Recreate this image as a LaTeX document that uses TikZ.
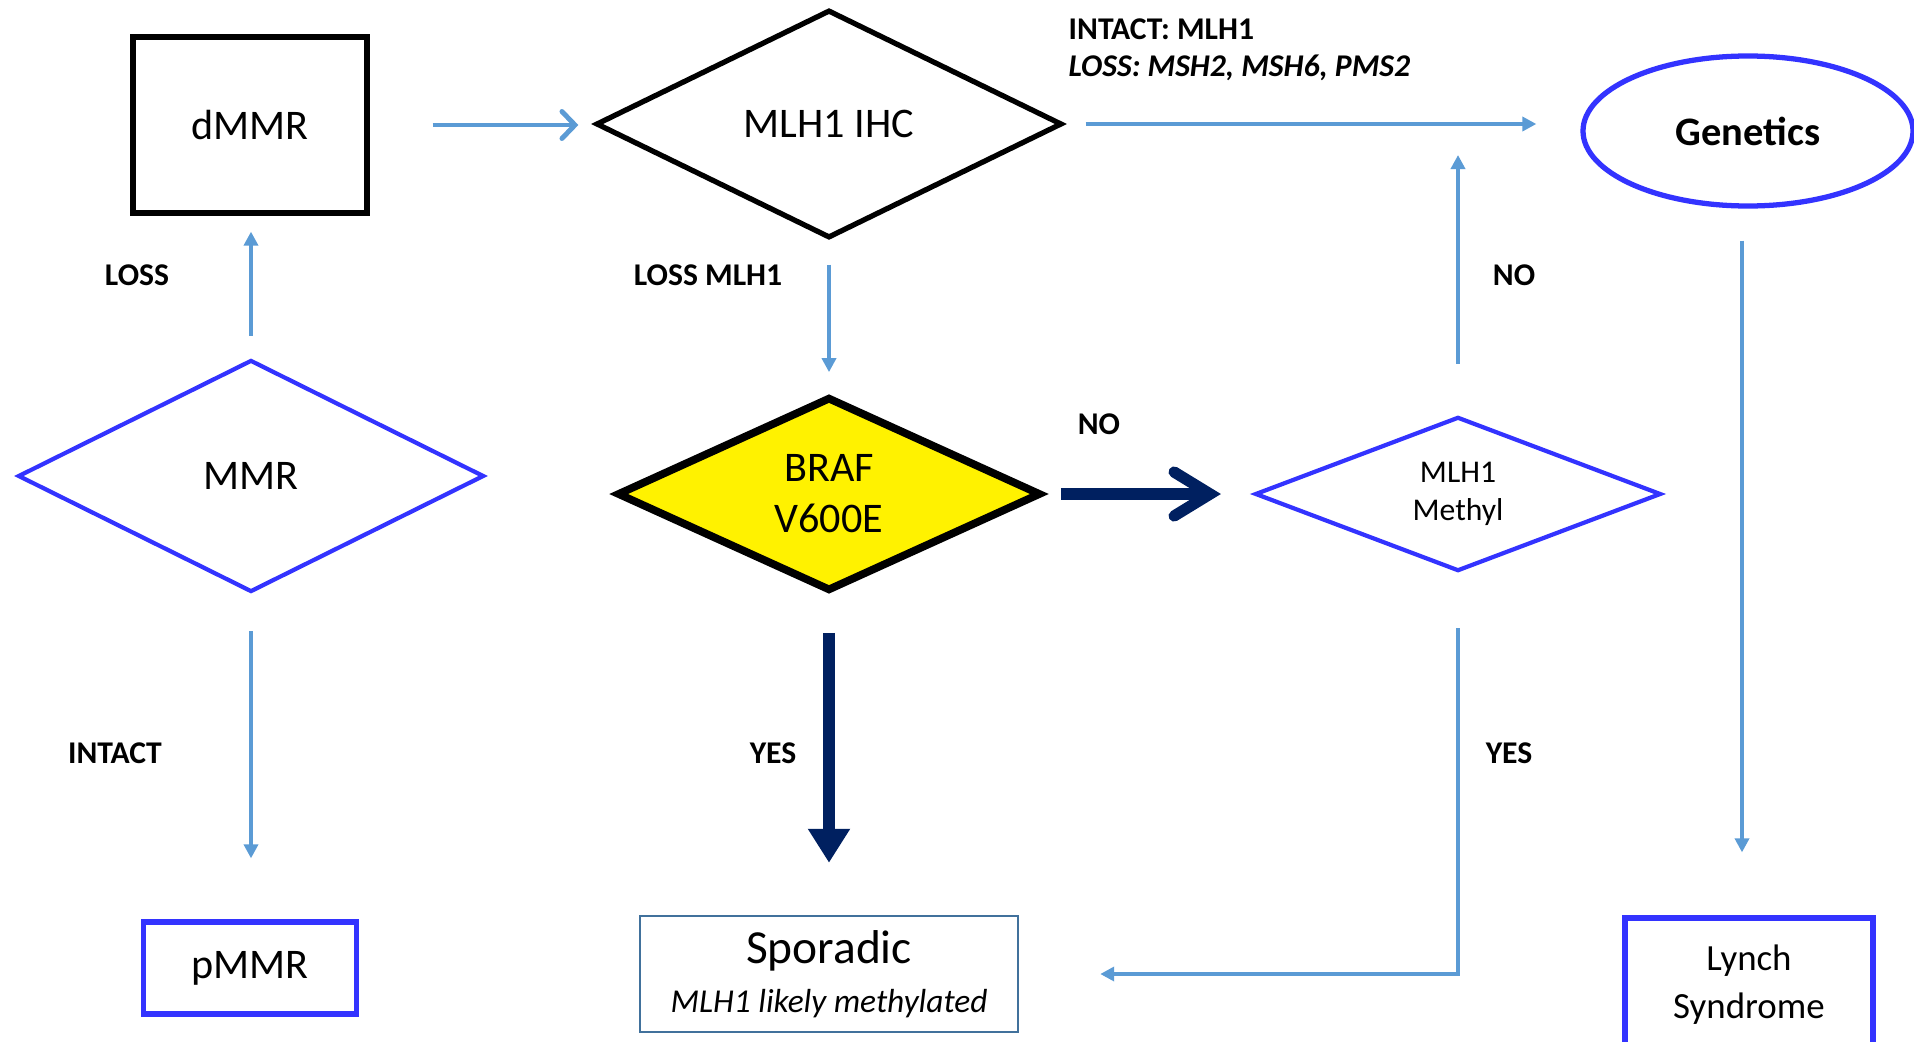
\documentclass[tikz,border=0pt]{standalone}
\usepackage{fontspec}
\setmainfont{Carlito}
\usetikzlibrary{shapes.geometric,arrows.meta}
\definecolor{arrowblue}{HTML}{5B9BD5}
\definecolor{shapeblue}{HTML}{3333FF}
\definecolor{navy}{HTML}{002060}
\definecolor{steel}{HTML}{41719C}
\tikzset{
  blackbox/.style={draw=black, line width=1.5pt, inner sep=0pt},
  bluebox/.style={draw=shapeblue, line width=1.5pt, inner sep=0pt, align=center},
  decision/.style={diamond, draw=shapeblue, line width=1.2pt, inner sep=0pt, align=center},
  flow/.style={draw=arrowblue, line width=1pt, -{Triangle[length=0.14cm,width=0.14cm]}},
  bigflow/.style={draw=navy, line width=3.2pt},
  lbl/.style={inner sep=0pt, font=\fontsize{9}{11}\selectfont\bfseries},
}
\begin{document}
\begin{tikzpicture}
    \clip (0,0) rectangle (19.14,10.41);
    \node[blackbox, minimum width=2.34cm, minimum height=1.76cm, font=\fontsize{12}{14}\selectfont] (dmmr) at (2.50,9.16) {dMMR};
    \node[decision, draw=black, line width=1.5pt, minimum width=4.66cm, minimum height=2.28cm, font=\fontsize{12}{14}\selectfont] (ihc) at (8.29,9.17) {MLH1 IHC};
    \node[decision, minimum width=4.66cm, minimum height=2.32cm, font=\fontsize{12}{14}\selectfont] (mmr) at (2.51,5.65) {MMR};
    \node[decision, draw=black, fill=yellow, line width=2.2pt, minimum width=4.24cm, minimum height=1.94cm, font=\fontsize{12}{14.5}\selectfont] (braf) at (8.29,5.47) {BRAF\\V600E};
    \node[decision, minimum width=4.06cm, minimum height=1.54cm, font=\fontsize{9}{10.8}\selectfont] (methyl) at (14.58,5.47) {MLH1\\Methyl};
    \node[ellipse, draw=shapeblue, line width=1.5pt, minimum width=3.30cm, minimum height=1.50cm, font=\fontsize{11.5}{14}\selectfont\bfseries] (genetics) at (17.48,9.10) {Genetics};
    \node[bluebox, minimum width=2.13cm, minimum height=0.92cm, font=\fontsize{12}{14}\selectfont] (pmmr) at (2.50,0.73) {pMMR};
    \node[draw=steel, line width=0.7pt, minimum width=3.78cm, minimum height=1.16cm, inner sep=0pt, align=center, font=\fontsize{13.5}{14}\selectfont] (sporadic) at (8.29,0.67) {Sporadic\\\fontsize{9.5}{12}\selectfont\itshape MLH1 likely methylated};
    \node[bluebox, minimum width=2.48cm, minimum height=1.34cm, font=\fontsize{10.5}{13.6}\selectfont] (lynch) at (17.49,0.56) {Lynch\\Syndrome};

    \draw[draw=arrowblue, line width=1.4pt, -{Straight Barb[length=0.13cm,width=0.27cm,line cap=round]}, shorten <=0.63cm, shorten >=0.15cm] (dmmr.east) -- (dmmr.east -| ihc.west);
    \draw[flow, shorten <=0.21cm, shorten >=0.44cm] (ihc.east) -- (ihc.east -| genetics.west);
    \draw[flow, shorten <=0.32cm, shorten >=0.63cm] ([xshift=-0.06cm]genetics.south) -- ([xshift=-0.06cm]genetics.south |- lynch.north);
    \draw[flow, shorten <=0.24cm, shorten >=0.21cm] (ihc.south) -- (braf.north);
    \draw[bigflow, -{Straight Barb[length=0.36cm,width=0.44cm,line cap=round]}, shorten <=0.16cm, shorten >=0.32cm] (braf.east) -- (methyl.west);
    \draw[bigflow, -{Triangle[length=0.34cm,width=0.4cm]}, shorten <=0.38cm, shorten >=0.52cm] (braf.south) -- (sporadic.north);
    \draw[flow, shorten <=0.51cm, shorten >=0.31cm] (methyl.north) -- (methyl.north |- ihc.east);
    \draw[flow, shorten <=0.55cm, shorten >=0.81cm] (methyl.south) |- (sporadic.east);
    \draw[flow, shorten <=0.22cm, shorten >=0.16cm] (mmr.north) -- (mmr.north |- dmmr.south);
    \draw[flow, shorten <=0.37cm, shorten >=0.61cm] (mmr.south) -- (mmr.south |- pmmr.north);

    \node[lbl] (loss) at (1.37,7.66) {LOSS};
    \node[lbl] (lossmlh) at (7.08,7.66) {LOSS MLH1};
    \node[lbl] (noup) at (15.14,7.66) {NO};
    \node[lbl] (noright) at (10.99,6.17) {NO};
    \node[lbl] (intact) at (1.15,2.88) {INTACT};
    \node[lbl] (yesdown) at (7.73,2.88) {YES};
    \node[lbl] (yesmethyl) at (15.09,2.88) {YES};
    \node[lbl, anchor=west] (intactmlh) at (10.68,10.12) {INTACT: MLH1};
    \node[lbl, anchor=west] (lossmsh) at (10.68,9.73) {\itshape LOSS: MSH2, MSH6, PMS2};
\end{tikzpicture}
\end{document}
